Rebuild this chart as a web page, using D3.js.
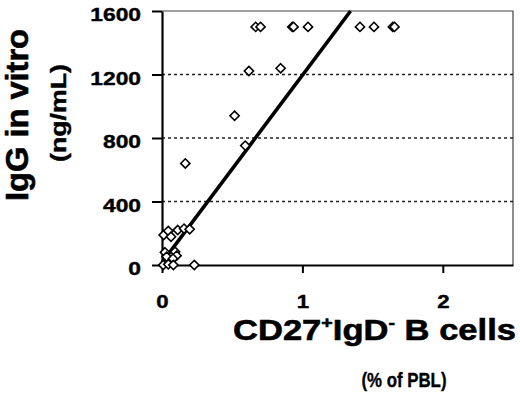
<!DOCTYPE html>
<html><head><meta charset="utf-8">
<script src="https://cdn.jsdelivr.net/npm/d3@7"></script>
<style>
html,body{margin:0;padding:0;background:#fff;}
svg{display:block;font-family:"Liberation Sans",Arial,sans-serif;font-weight:bold;}
</style></head>
<body><svg id="c" width="520" height="395"></svg>
<script>
// ---- data ----
const xValues = [0.667,0.702,0.928,0.937,1.04,1.41,1.51,1.644,1.656,
  0.619,0.845,0.517,0.593,0.166,
  0.012,0.045,0.064,0.112,0.157,0.197,0.021,0.033,0.093,0.104,0.078,0.009,0.045,0.081,0.23];
const yValues = [1500,1500,1500,1500,1500,1500,1500,1500,1500,
  1222,1239,940,752,640,
  189,214,178,220,229,225,80,52,84,59,40,0,4,0,0];
const fitSlope = 1180;
const fitIntercept = 15;
const xTicks = [0,1,2];
const yTicks = [0,400,800,1200,1600];
const gridValues = [400,800,1200];
const yTitle = "IgG in vitro";
const yUnit = "(ng/mL)";
const xUnit = "(% of PBL)";

// ---- layout ----
const L = 162, R = 513, T = 11, B = 265;
const svg = d3.select("#c");
const x = d3.scaleLinear().domain([0,2.5]).range([L,R]);
const y = d3.scaleLinear().domain([0,1600]).range([B,T]);

// border (top/right)
svg.append("path").attr("d",`M${L},${T}H${R}V${B}`).attr("fill","none").attr("stroke","#444").attr("stroke-width",1.2);

// grid
svg.append("g").selectAll("line").data(gridValues).join("line")
  .attr("x1",L).attr("x2",R).attr("y1",d=>y(d)).attr("y2",d=>y(d))
  .attr("stroke","#222").attr("stroke-width",1.3).attr("stroke-dasharray","3,3");

// axes
const ya = svg.append("g").attr("transform",`translate(${L},0)`)
  .call(d3.axisLeft(y).tickValues(yTicks).tickSize(10).tickPadding(0).tickSizeOuter(0).tickFormat(d3.format("d")));
ya.select(".domain").attr("stroke","#000").attr("stroke-width",2.2);
ya.selectAll(".tick line").attr("stroke","#000").attr("stroke-width",2);
ya.selectAll(".tick text").attr("x",-21/1.2).attr("dy","0.5em")
  .attr("transform","scale(1.2,1)").style("font-size","19px").style("font-weight","bold")
  .style("font-family",'"Liberation Sans",Arial,sans-serif').attr("fill","#000")
  .attr("stroke","#000").attr("stroke-width",0.4);

const xa = svg.append("g").attr("transform",`translate(0,${B})`)
  .call(d3.axisBottom(x).tickValues(xTicks).tickSize(8).tickPadding(0).tickSizeOuter(0).tickFormat(d3.format("d")));
xa.select(".domain").attr("stroke","#000").attr("stroke-width",2.2);
xa.selectAll(".tick line").attr("stroke","#000").attr("stroke-width",2);
xa.selectAll(".tick text").attr("dy",null).attr("x",0).attr("y",43)
  .attr("transform","scale(1.2,1)").style("font-size","18.5px").style("font-weight","bold")
  .style("font-family",'"Liberation Sans",Arial,sans-serif').attr("fill","#000")
  .attr("stroke","#000").attr("stroke-width",0.4);

// fit line
const x1 = (1600 - fitIntercept)/fitSlope;
svg.append("line").attr("x1",x(0)).attr("y1",y(fitIntercept)).attr("x2",x(x1)).attr("y2",y(1600))
  .attr("stroke","#000").attr("stroke-width",3.6);

// points
const pts = xValues.map((v,i)=>[v,yValues[i]]);
const s = 4.6;
svg.append("g").selectAll("path").data(pts).join("path")
  .attr("d",d=>{const cx=x(d[0]),cy=y(d[1]);return `M${cx},${cy-s}L${cx+s},${cy}L${cx},${cy+s}L${cx-s},${cy}Z`;})
  .attr("fill","#fff").attr("stroke","#000").attr("stroke-width",1.6);

// titles
svg.append("text").attr("transform","translate(28,115) rotate(-90)").attr("text-anchor","middle")
  .style("font-size","31px").attr("textLength",172).attr("lengthAdjust","spacingAndGlyphs")
  .attr("stroke","#000").attr("stroke-width",0.6).text(yTitle);
svg.append("text").attr("transform","translate(66,113) rotate(-90)").attr("text-anchor","middle")
  .style("font-size","22px").attr("textLength",98).attr("lengthAdjust","spacingAndGlyphs")
  .attr("stroke","#000").attr("stroke-width",0.4).text(yUnit);

const xt = svg.append("text").attr("x",233).attr("y",340).style("font-size","30px")
  .attr("textLength",283).attr("lengthAdjust","spacingAndGlyphs")
  .attr("stroke","#000").attr("stroke-width",0.6);
xt.append("tspan").text("CD27");
xt.append("tspan").attr("dy",-12).style("font-size","17px").text("+");
xt.append("tspan").attr("dy",12).text("IgD");
xt.append("tspan").attr("dy",-12).style("font-size","17px").text("-");
xt.append("tspan").attr("dy",12).text(" B cells");

svg.append("text").attr("x",404).attr("y",387).attr("text-anchor","middle").style("font-size","21px")
  .attr("textLength",85).attr("lengthAdjust","spacingAndGlyphs")
  .attr("stroke","#000").attr("stroke-width",0.4).text(xUnit);
</script></body></html>
